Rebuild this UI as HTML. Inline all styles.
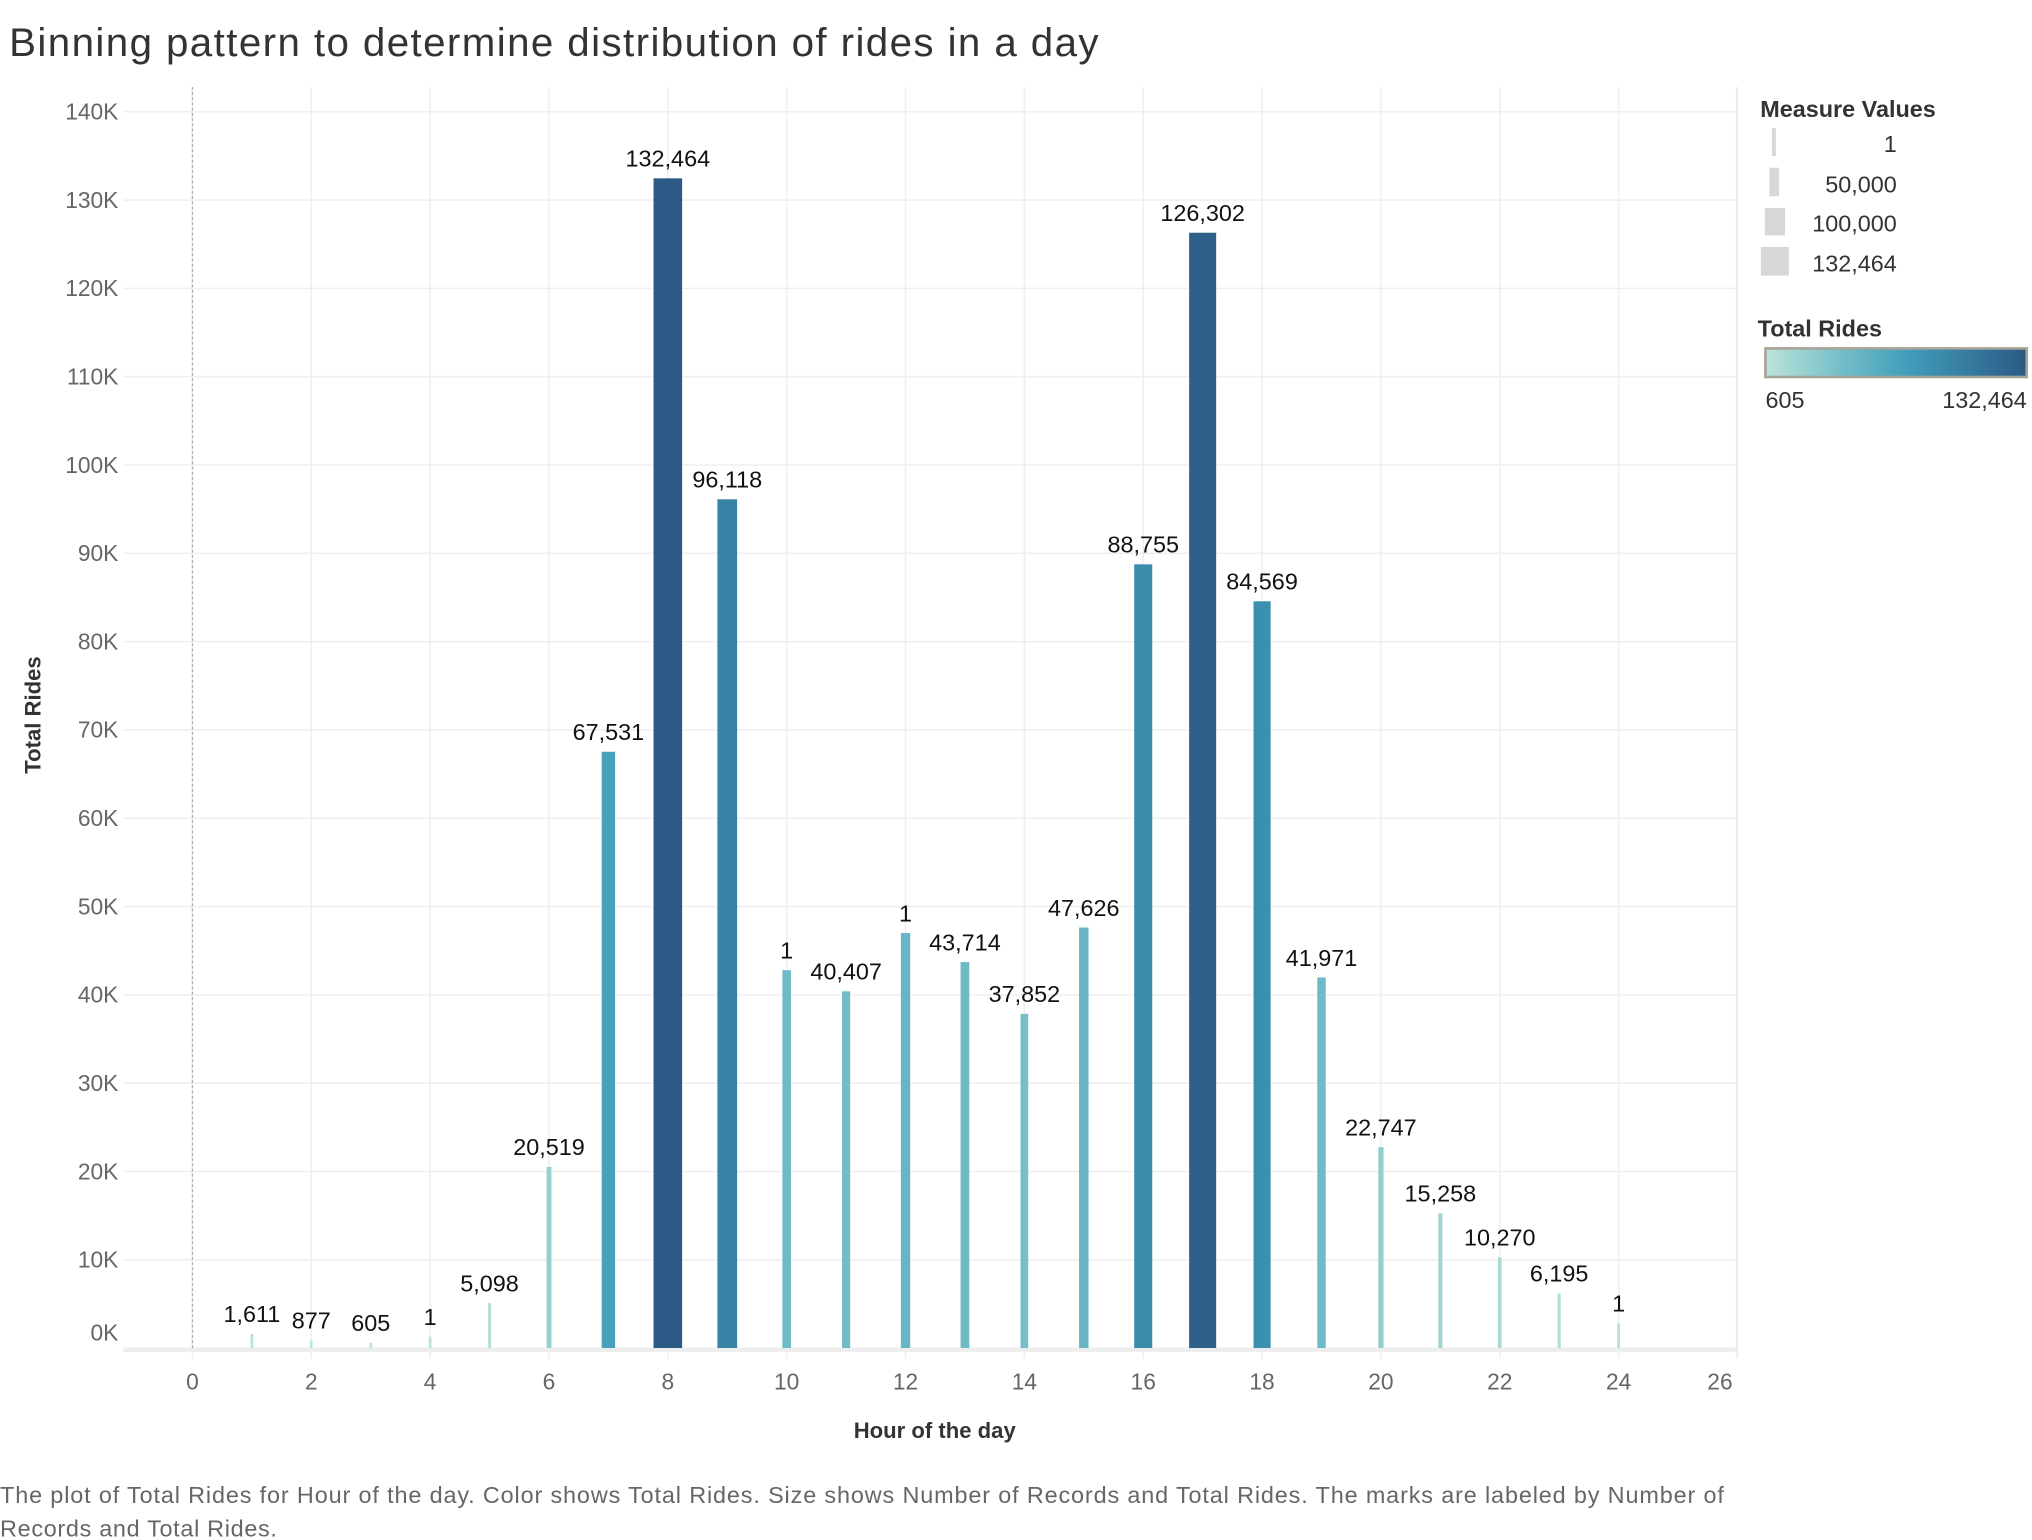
<!DOCTYPE html>
<html><head><meta charset="utf-8"><style>
html,body{margin:0;padding:0;background:#fff;}
svg{display:block;font-family:"Liberation Sans",sans-serif;}
</style></head><body>
<svg id="chart" width="2032" height="1540" viewBox="0 0 1563 1184.6" xmlns="http://www.w3.org/2000/svg">
<text x="7" y="43" font-size="31" fill="#333" textLength="838" lengthAdjust="spacing">Binning pattern to determine distribution of rides in a day</text>
<g id="grid"></g>
<g id="bars"></g>
<g id="labels"></g>
<g id="axes"></g>
<text transform="translate(31,550) rotate(-90)" text-anchor="middle" font-size="17" font-weight="bold" fill="#333">Total Rides</text>
<text x="719" y="1106" text-anchor="middle" font-size="17" font-weight="bold" fill="#333">Hour of the day</text>
<text x="0" y="1156" font-size="18" fill="#666" textLength="1326" lengthAdjust="spacing">The plot of Total Rides for Hour of the day.  Color shows Total Rides.  Size shows Number of Records and Total Rides.  The marks are labeled by Number of</text>
<text x="0" y="1182" font-size="18" fill="#666" textLength="213" lengthAdjust="spacing">Records and Total Rides.</text>
<line x1="1336" y1="67" x2="1336" y2="1045" stroke="#eee" stroke-width="1.5"/>
<g>
<text x="1354" y="90" font-size="18" font-weight="bold" fill="#333">Measure Values</text>
<rect x="1363" y="98.5" width="3" height="21.5" fill="#d7d7d7"/>
<rect x="1361" y="129" width="7.5" height="22" fill="#d7d7d7"/>
<rect x="1357.5" y="160" width="15.5" height="21" fill="#d7d7d7"/>
<rect x="1354.5" y="190" width="21.5" height="22" fill="#d7d7d7"/>
<g font-size="18" fill="#333" text-anchor="end">
<text x="1459" y="117">1</text><text x="1459" y="148">50,000</text><text x="1459" y="178">100,000</text><text x="1459" y="209">132,464</text>
</g></g>
<g>
<defs><linearGradient id="grad" x1="0" x2="1" y1="0" y2="0">
<stop offset="0" stop-color="#bce4d8"/><stop offset="0.3" stop-color="#72bcc8"/><stop offset="0.55" stop-color="#409db9"/><stop offset="1" stop-color="#2c5985"/></linearGradient></defs>
<text x="1352" y="259" font-size="18" font-weight="bold" fill="#333">Total Rides</text>
<rect x="1358" y="268" width="201" height="22" fill="url(#grad)" stroke="#a8a498" stroke-width="2"/>
<text x="1358" y="314" font-size="18" fill="#333">605</text>
<text x="1559" y="314" font-size="18" fill="#333" text-anchor="end">132,464</text>
</g>
</svg>
<script>
const hours = [1,2,3,4,5,6,7,8,9,10,11,12,13,14,15,16,17,18,19,20,21,22,23,24];
const totalRides = [1611,877,605,1300,5098,20519,67531,132464,96118,42800,40407,47000,43714,37852,47626,88755,126302,84569,41971,22747,15258,10270,6195,2800];
const barLabels = ["1,611","877","605","1","5,098","20,519","67,531","132,464","96,118","1","40,407","1","43,714","37,852","47,626","88,755","126,302","84,569","41,971","22,747","15,258","10,270","6,195","1"];
const yTicks = [0,10000,20000,30000,40000,50000,60000,70000,80000,90000,100000,110000,120000,130000,140000];
const yTickLabels = ["0K","10K","20K","30K","40K","50K","60K","70K","80K","90K","100K","110K","120K","130K","140K"];
const xTicks = [0,2,4,6,8,10,12,14,16,18,20,22,24,26];

const NS="http://www.w3.org/2000/svg";
const x = h => 148 + h*45.71;
const y = v => 1037 - v*0.006793;
const maxV = 132464, minV = 605;
function mk(tag, attrs, parent, txt){const e=document.createElementNS(NS,tag);for(const k in attrs)e.setAttribute(k,attrs[k]);if(txt!==undefined)e.textContent=txt;parent.appendChild(e);return e;}
const stops=[[0,[0xbc,0xe4,0xd8]],[0.3,[0x72,0xbc,0xc8]],[0.55,[0x40,0x9d,0xb9]],[1,[0x2c,0x59,0x85]]];
function color(v){let t=Math.max(0,Math.min(1,(v-minV)/(maxV-minV)));for(let i=1;i<stops.length;i++){if(t<=stops[i][0]){const a=stops[i-1],b=stops[i];const f=(t-a[0])/(b[0]-a[0]);return 'rgb('+a[1].map((c,j)=>Math.round(c+(b[1][j]-c)*f)).join(',')+')';}}return 'rgb(44,89,133)';}
const grid=document.getElementById('grid'), bars=document.getElementById('bars'), labels=document.getElementById('labels'), axes=document.getElementById('axes');
yTicks.forEach((v,i)=>{
  const g=mk('line',{x1:95,x2:1336,y1:y(v),y2:y(v),stroke:'#efefef','stroke-width':1.2},grid);
  
  
  const ty = v===0 ? y(v)-6 : y(v)+6;
  const t=mk('text',{x:91,y:ty,'text-anchor':'end','font-size':17.5,fill:'#666'},axes,yTickLabels[i]);
  
  
});
xTicks.forEach(h=>{
  const g=mk('line',{x1:x(h),x2:x(h),y1:67,y2:1045,stroke:'#efefef','stroke-width':1.2},grid);
  
  
  const t=mk('text',{x:h===26?1323:x(h),y:1069,'text-anchor':'middle','font-size':17.5,fill:'#666'},axes,String(h));
  
  
});
const zl=mk('line',{x1:148,x2:148,y1:67,y2:1037,stroke:'#aaa','stroke-width':1,'stroke-dasharray':'2,2'},grid);


const base=mk('line',{x1:95,x2:1336,y1:1038.5,y2:1038.5,stroke:'#eee','stroke-width':3},axes);


hours.forEach((h,i)=>{
  const v=totalRides[i];
  const w=2+20*Math.pow(v/maxV,1.3);
  const r=mk('rect',{x:x(h)-w/2,y:y(v),width:w,height:1037-y(v),fill:color(v)},bars);
  
  
  const t=mk('text',{x:x(h),y:y(v)-9,'text-anchor':'middle','font-size':18,fill:'#111'},labels,barLabels[i]);
  
  
});
</script>
</body></html>
